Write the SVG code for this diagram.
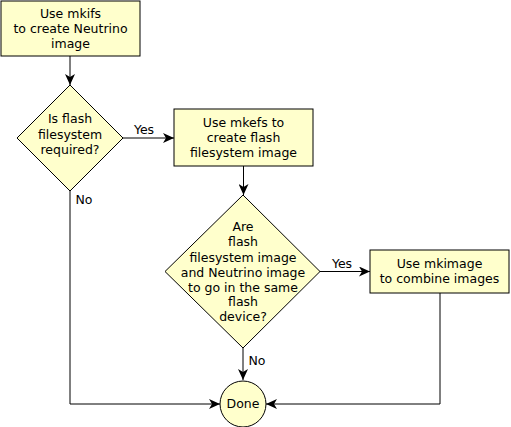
<svg xmlns="http://www.w3.org/2000/svg" width="511" height="427" viewBox="0 0 511 427">
<style>
.box{fill:#ffffcc;stroke:#000;stroke-width:1}
.t{font-family:"DejaVu Sans",sans-serif;font-size:12.5px;fill:#000;text-anchor:middle}
.c{fill:none;stroke:#000;stroke-width:1}
</style>
<defs>
<marker id="ah" markerWidth="12" markerHeight="10" refX="11" refY="5" orient="auto" markerUnits="userSpaceOnUse">
<path d="M0,0 L11,5 L0,10 L3,5 Z" fill="#000"/>
</marker>
</defs>
<rect width="511" height="427" fill="#fff"/>
<g id="connectors">
<path class="c" d="M70,56 V85" marker-end="url(#ah)"/>
<path class="c" d="M123,138 H174" marker-end="url(#ah)"/>
<path class="c" d="M243.5,166 V195" marker-end="url(#ah)"/>
<path class="c" d="M320,271.5 H370" marker-end="url(#ah)"/>
<path class="c" d="M243,348 V380" marker-end="url(#ah)"/>
<path class="c" d="M70,191 V404 H220" marker-end="url(#ah)"/>
<path class="c" d="M440,293 V404 H266" marker-end="url(#ah)"/>
<text class="t" x="144" y="134">Yes</text>
<text class="t" x="342" y="268">Yes</text>
<text class="t" x="84" y="204">No</text>
<text class="t" x="257" y="365">No</text>
</g>
<g id="n1">
<rect class="box" x="1" y="1" width="139" height="55"/>
<text class="t" x="70.5" y="18">Use mkifs</text>
<text class="t" x="70.5" y="33">to create Neutrino</text>
<text class="t" x="70.5" y="48">image</text>
</g>
<g id="d1">
<polygon class="box" points="70,85 123,138 70,191 17,138"/>
<text class="t" x="70" y="123">Is flash</text>
<text class="t" x="70" y="139">filesystem</text>
<text class="t" x="70" y="154">required?</text>
</g>
<g id="n2">
<rect class="box" x="174" y="109" width="139" height="57"/>
<text class="t" x="243.5" y="127">Use mkefs to</text>
<text class="t" x="243.5" y="142">create flash</text>
<text class="t" x="243.5" y="157">filesystem image</text>
</g>
<g id="d2">
<polygon class="box" points="243,195 320,271.5 243,348 165,271.5"/>
<text class="t" x="243" y="231">Are</text>
<text class="t" x="243" y="246">flash</text>
<text class="t" x="243" y="262">filesystem image</text>
<text class="t" x="243" y="277">and Neutrino image</text>
<text class="t" x="243" y="292">to go in the same</text>
<text class="t" x="243" y="306">flash</text>
<text class="t" x="243" y="321">device?</text>
</g>
<g id="n3">
<rect class="box" x="370" y="250" width="139" height="43"/>
<text class="t" x="439.5" y="268">Use mkimage</text>
<text class="t" x="439.5" y="283">to combine images</text>
</g>
<g id="done">
<circle class="box" cx="243" cy="404" r="23"/>
<text class="t" x="243" y="408">Done</text>
</g>
</svg>
